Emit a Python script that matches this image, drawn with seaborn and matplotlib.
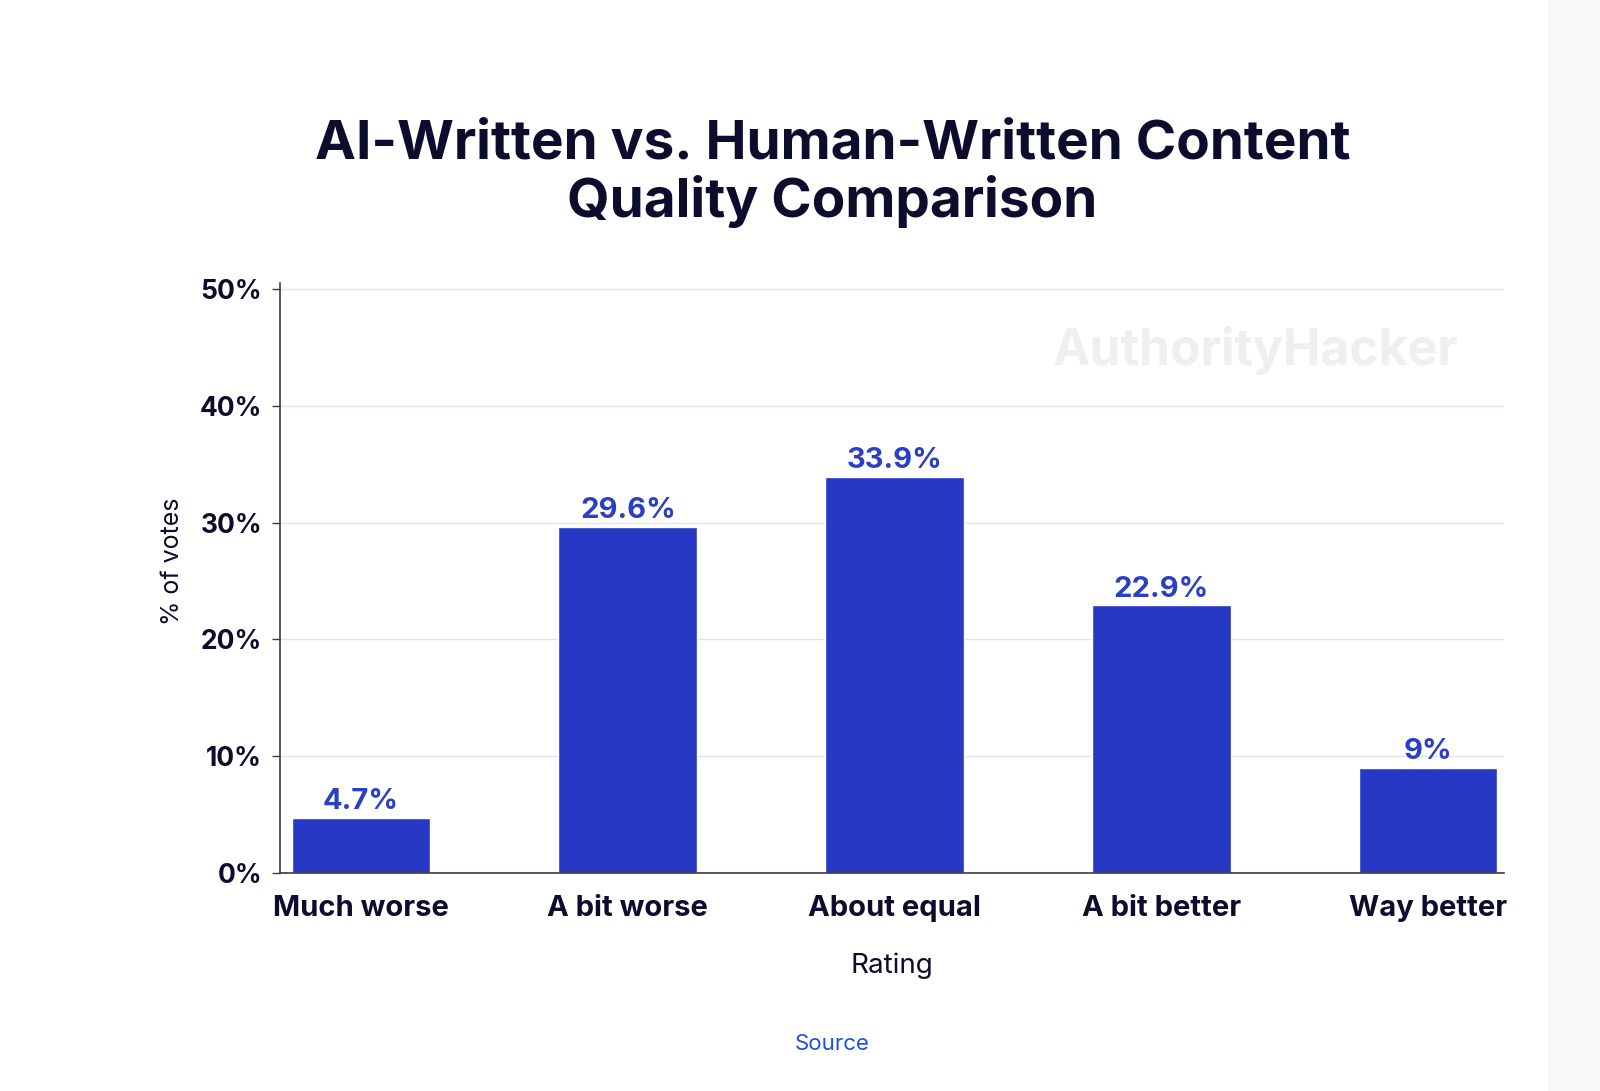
import matplotlib
matplotlib.use("Agg")
import matplotlib.pyplot as plt
import matplotlib.patches as mpatches
import pandas as pd
import seaborn as sns

# chart data
ratings = ["Much worse", "A bit worse", "About equal", "A bit better", "Way better"]
votes = [4.7, 29.6, 33.9, 22.9, 9.0]
value_labels = ["4.7%", "29.6%", "33.9%", "22.9%", "9%"]
y_ticks = [0, 10, 20, 30, 40, 50]
y_tick_labels = ["0%", "10%", "20%", "30%", "40%", "50%"]

BAR = "#2638c4"
LABEL = "#2a3ec6"
DARK = "#0c0c2c"


def main():
    sns.set_theme(style="white")
    plt.rcParams['font.family'] = ['Inter', 'DejaVu Sans']

    df = pd.DataFrame({"rating": ratings, "votes": votes})

    fig = plt.figure(figsize=(16, 10.91), dpi=100)
    fig.patch.set_facecolor("white")
    fig.patches.append(mpatches.Rectangle((0.9675, 0), 0.0325, 1, transform=fig.transFigure,
                                          facecolor="#f8f8f8", edgecolor="none", zorder=0))

    ax = fig.add_axes([0.175, 0.1998, 0.765, 0.5408])
    sns.barplot(data=df, x="rating", y="votes", color=BAR, width=0.52,
                saturation=1, ax=ax, zorder=3)

    ax.set_xlim(-0.304, 4.285)
    ax.set_ylim(0, 50.5)
    ax.set_yticks(y_ticks)
    ax.set_yticklabels(y_tick_labels, fontsize=19, fontweight="bold", color=DARK)
    ax.set_xticks(range(len(ratings)))
    ax.set_xticklabels(ratings, fontsize=21, fontweight="bold", color=DARK)
    ax.tick_params(axis="y", length=6, width=1, color="#3a3a4a", pad=7, direction="out", left=True)
    ax.tick_params(axis="x", length=0, pad=16)

    for y in y_ticks[1:]:
        ax.axhline(y, color="#e2e2ea", linewidth=1, zorder=1)

    for s in ["top", "right"]:
        ax.spines[s].set_visible(False)
    for s in ["left", "bottom"]:
        ax.spines[s].set_color("#3a3a4a")
        ax.spines[s].set_linewidth(1.2)
        ax.spines[s].set_zorder(4)

    for i, (v, lab) in enumerate(zip(votes, value_labels)):
        ax.text(i, v + 0.25, lab, ha="center", va="bottom", fontsize=21,
                fontweight="bold", color=LABEL)

    ax.set_ylabel("% of votes", fontsize=18, color=DARK, labelpad=11, y=0.529)
    ax.set_xlabel("Rating", fontsize=20, color=DARK, labelpad=22)

    fig.text(0.5203, 0.868, "AI-Written vs. Human-Written Content", ha="center", va="center",
             fontsize=39.5, fontweight="bold", color=DARK)
    fig.text(0.5203, 0.815, "Quality Comparison", ha="center", va="center",
             fontsize=39.5, fontweight="bold", color=DARK)

    fig.text(0.7848, 0.679, "AuthorityHacker", ha="center", va="center",
             fontsize=36, fontweight="bold", color="#efeff2", zorder=0)

    fig.text(0.52, 0.043, "Source", ha="center", va="center", fontsize=16, color="#1f4fe0")

    fig.savefig("out.png", dpi=100)
    plt.close(fig)


if __name__ == '__main__':
    main()
